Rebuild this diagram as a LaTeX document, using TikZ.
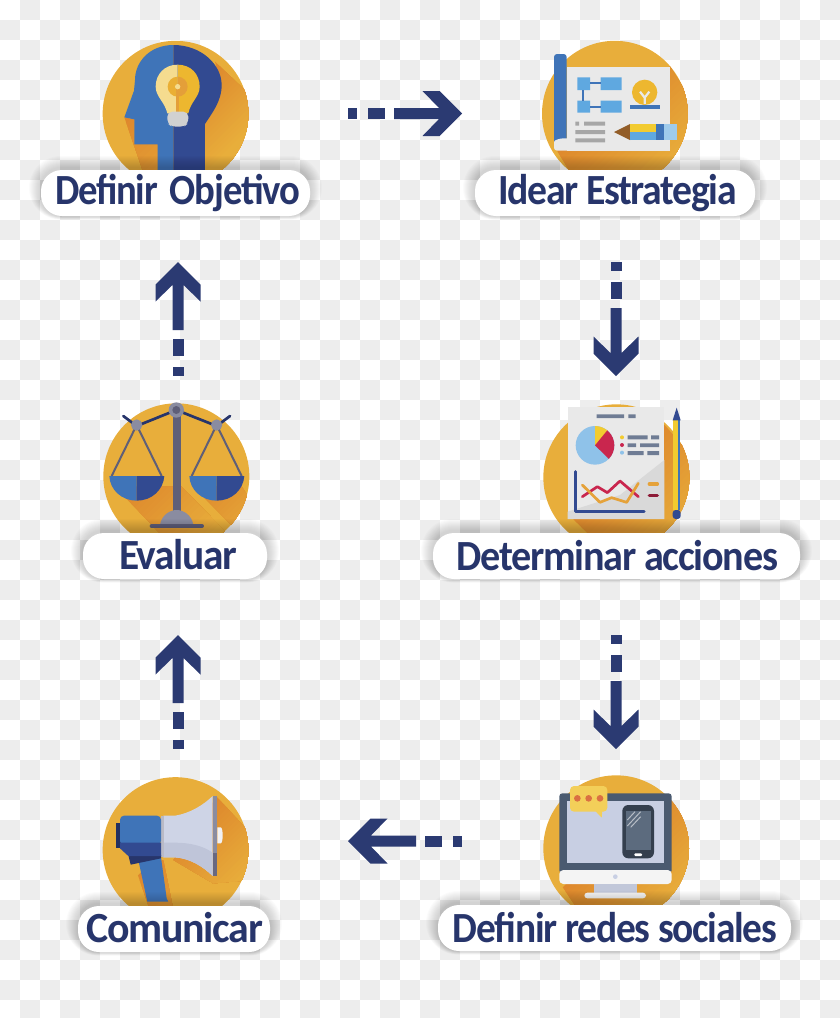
\documentclass[tikz,border=0pt]{standalone}
\usepackage{fontspec}
\usepackage{graphicx}
\setmainfont{Carlito}[LetterSpace=-3.2]
\definecolor{chk}{HTML}{EDEDED}
\definecolor{circ}{HTML}{E8AE3B}
\definecolor{shO}{HTML}{DE882D}
\definecolor{bluL}{HTML}{3F74B8}
\definecolor{bluD}{HTML}{324A91}
\definecolor{navy}{HTML}{2B3A72}
\definecolor{txt}{HTML}{27356B}
\definecolor{paper}{HTML}{E9E9E9}
\definecolor{sky}{HTML}{5FA8E0}
\definecolor{yel}{HTML}{F2CB30}
\definecolor{gold}{HTML}{EDB72F}
\definecolor{pale}{HTML}{F5DC8F}
\definecolor{slate}{HTML}{5F5F78}
\definecolor{mist}{HTML}{8A8CA0}
\definecolor{bar}{HTML}{6F7C94}
\definecolor{rd}{HTML}{C9264E}
\definecolor{org}{HTML}{E5A23A}
\definecolor{scr}{HTML}{C8CFE3}
\definecolor{bez}{HTML}{4A5A70}
\tikzset{
  x=1pt,y=-1pt,
  disc/.style={fill=circ},
  pill/.style={fill=white,rounded corners=21pt,inner sep=0pt,outer sep=0pt,text=txt,font=\fontsize{43}{43}\selectfont\bfseries},
  arrowbody/.style={fill=navy}
}
% long shadow: diagonal bands from orange to the disc colour, inside a polygon
\newcommand{\softshade}[3]{% x+y where it starts, length in x and y, polygon
  \begin{scope}
    \clip #3;
    \foreach \k in {0,...,20}{
      \pgfmathsetmacro{\tt}{#1/2+\k*#2/20}
      \pgfmathsetmacro{\pp}{100-5*\k}
      \fill[shO!\pp!circ] ({\tt+1500},{\tt-1500}) -- ({\tt-1500},{\tt+1500}) -- ({\tt},{\tt+3000}) -- ({\tt+3000},{\tt}) -- cycle;
    }
  \end{scope}
}
\newcommand{\labelpill}[9]{% name, x1, y1, x2, y2, H, textwidth, dx, text
  \pgfmathsetmacro{\pw}{#4-#2}\pgfmathsetmacro{\ph}{#5-#3}
  \foreach \e in {1,...,12}{
    \fill[black,opacity=0.016,rounded corners=20pt+\e pt] (#2-\e,#3-\e-2) rectangle (#4+\e,#5+0.3*\e);
  }
  \pgfmathsetmacro{\pd}{\ph-#6}
  \node[pill,minimum width=\pw pt,text height=#6 pt,text depth=\pd pt] (#1) at ({(#2+#4)/2},{(#3+#5)/2}) {\hspace*{#8pt}\resizebox{#7pt}{\height}{#9}};
}
\newcommand{\dasharrow}[2]{% start coordinate, angle
  \begin{scope}[shift={(#1)},rotate=#2]
    \fill[arrowbody] (0,-5.5) rectangle (9,5.5);
    \fill[arrowbody] (20,-5.5) rectangle (37,5.5);
    \fill[arrowbody] (46,-5.5) -- (91,-5.5) -- (74.5,-22.5) -- (91.5,-22.5) -- (114,0) -- (91.5,22.5) -- (74.5,22.5) -- (91,5.5) -- (46,5.5) -- cycle;
  \end{scope}
}
\begin{document}
\begin{tikzpicture}
\useasboundingbox (0,0) rectangle (840,1018);
% checker background
\begin{scope}
\clip (0,0) rectangle (840,1018);
\foreach \i in {0,...,41}{\foreach \j in {0,...,50}{
  \pgfmathtruncatemacro{\s}{mod(\i+\j,2)}
  \ifnum\s=1 \fill[chk] (20*\i,20*\j) rectangle (20*\i+20,20*\j+20);\fi
}}
\end{scope}

% ---------- icon 1: head
\begin{scope}[shift={(30,30)},scale=0.33333]
  \fill[disc] (436.5,251) circle (218.5);
  \begin{scope}
    \clip (436.5,251) circle (218.5);
    \softshade{650}{150}{(555,95) -- (680,215) -- (680,440) -- (525,440) -- (525,280) -- (575,165) -- cycle}
    \softshade{545}{220}{(283,262) -- (345,440) -- (385,440) -- (385,343) -- (313,343) -- (313,268) -- cycle}
  \end{scope}
  \fill[bluL] (430,45) .. controls (360,45) and (315,95) .. (315,150) -- (312,182) -- (283,262) -- (313,268) -- (313,343) -- (383,343) -- (383,425) -- (430,425) -- cycle;
  \fill[bluD] (430,45) .. controls (515,45) and (575,105) .. (575,165) .. controls (575,215) and (545,250) .. (525,282) -- (525,425) -- (430,425) -- cycle;
  \fill[gold] (443,104) .. controls (482,104) and (509,132) .. (509,170) .. controls (509,200) and (482,215) .. (475,250) -- (443,250) -- cycle;
  \fill[pale] (443,104) .. controls (404,104) and (377,132) .. (377,170) .. controls (377,200) and (404,215) .. (412,250) -- (443,250) -- cycle;
  \fill[org!90!shO] (443,140) arc[start angle=-90,end angle=90,radius=30];
  \fill[org!40!gold] (443,140) arc[start angle=270,end angle=90,radius=30] -- cycle;
  \draw[org!90!shO,line width=2.4pt] (443,170) -- (443,245);
  \fill[pale] (443,170) circle (8);
  \fill[white!82!black,rounded corners=5pt] (412,245) -- (475,245) -- (475,280) -- (462,290) -- (425,290) -- (412,280) -- cycle;
\end{scope}

% ---------- icon 2: plan
\begin{scope}[shift={(340,30)},scale=0.33333]
  \fill[disc] (824.5,251) circle (218.5);
  \begin{scope}
    \clip (824.5,251) circle (218.5);
    \softshade{1000}{200}{(990,110) -- (1060,220) -- (1060,440) -- (700,440) -- (650,360) -- cycle}
  \end{scope}
  \fill[paper] (680,110) rectangle (990,362);
  \fill[bluL,rounded corners=3pt] (642,72) rectangle (680,350);
  \fill[paper,rounded corners=3pt] (680,325) .. controls (660,325) and (642,330) .. (642,345) -- (642,362) -- (700,362) -- (700,325) -- cycle;
  \fill[sky] (712,142) rectangle (750,180) (782,142) rectangle (845,180) (712,212) rectangle (750,248) (782,212) rectangle (845,248);
  \draw[bluL,line width=1.8pt] (750,160) -- (782,160) (730,180) -- (730,212) (750,230) -- (782,230);
  \begin{scope}
    \clip (860,140) rectangle (970,224);
    \fill[gold] (914,187) circle (38);
  \end{scope}
  \draw[paper,line width=2.2pt] (900,185) -- (914,203) -- (928,185) (914,203) -- (914,222);
  \fill[bluL] (870,224) rectangle (960,236);
  \fill[gray!70] (706,275) rectangle (717,287) (732,275) rectangle (795,287) (706,300) rectangle (795,312) (706,325) rectangle (795,337);
  \fill[brown!70!black!90!orange] (822,306) -- (870,282) -- (870,330) -- cycle;
  \fill[yel] (870,282) rectangle (948,305);
  \fill[sky] (870,305) rectangle (948,330);
  \fill[bluL] (948,282) rectangle (972,330);
  \fill[sky!60!white] (972,282) rectangle (1010,330);
\end{scope}

% ---------- icon 3: scales
\begin{scope}[shift={(60,390)},scale=0.33333]
  \fill[disc] (349,259) circle (219);
  \begin{scope}
    \clip (349,259) circle (219);
    \softshade{500}{190}{(165,290) -- (310,440) -- (510,440) -- (365,290) -- cycle}
    \softshade{690}{170}{(400,290) -- (530,420) -- (590,360) -- (545,290) -- cycle}
  \end{scope}
  \draw[slate,line width=2pt] (230,105) -- (155,258) (230,105) -- (305,258) (470,105) -- (395,258) (470,105) -- (545,258);
  \draw[txt,line width=2.7pt,line cap=round] (190,78) -- (230,108) -- (349,60) -- (470,108) -- (510,78);
  \fill[slate] (338,60) rectangle (362,370);
  \fill[mist] (230,105) circle (17) (470,105) circle (17) (349,60) circle (23);
  \fill[slate] (349,60) circle (12);
  \fill[bluL] (148,258) -- (230,258) -- (230,332) .. controls (185,332) and (150,300) .. (148,258) -- cycle;
  \fill[bluD] (313,258) -- (230,258) -- (230,332) .. controls (275,332) and (310,300) .. (313,258) -- cycle;
  \fill[bluL] (388,258) -- (470,258) -- (470,332) .. controls (425,332) and (390,300) .. (388,258) -- cycle;
  \fill[bluD] (553,258) -- (470,258) -- (470,332) .. controls (515,332) and (550,300) .. (553,258) -- cycle;
  \fill[mist] (300,404) .. controls (305,375) and (330,360) .. (350,360) .. controls (370,360) and (395,375) .. (400,404) -- cycle;
  \draw[slate,line width=4pt,line cap=round] (275,408) -- (426,408);
\end{scope}

% ---------- icon 4: report
\begin{scope}[shift={(520,395)},scale=0.33333]
  \fill[disc] (289,247) circle (219);
  \begin{scope}
    \clip (289,247) circle (219);
    \softshade{500}{200}{(433,90) -- (520,190) -- (520,420) -- (210,420) -- (160,372) -- cycle}
  \end{scope}
  \fill[paper] (143,35) rectangle (433,372);
  \fill[white!85!black] (433,195) -- (300,300) -- (143,350) -- (143,372) -- (433,372) -- cycle;
  \fill[bar] (230,58) rectangle (312,69) (325,58) rectangle (347,69);
  \fill[sky!70!white] (225,151) circle (58);
  \begin{scope}
    \clip (225,151) circle (58);
    \fill[yel] (225,151) -- (225,85) -- (285,85) -- (265,110) -- cycle;
    \fill[rd] (225,151) -- (275,90) -- (295,130) -- (280,205) -- cycle;
  \end{scope}
  \fill[yel] (306,127) circle (6);
  \fill[rd] (306,150) circle (6);
  \fill[sky!70!white] (306,173) circle (6);
  \fill[bar] (323,121) rectangle (383,133) (393,121) rectangle (417,133) (323,145) rectangle (348,156) (360,145) rectangle (417,156) (323,168) rectangle (371,180) (382,168) rectangle (417,180);
  \draw[bluD,line width=3.2pt,line cap=round,line join=round] (166,230) -- (166,350) -- (372,350);
  \draw[rd,line width=2.7pt,line cap=round,line join=round] (187,305) -- (232,275) -- (262,293) -- (300,258) -- (355,305);
  \draw[org,line width=2.7pt,line cap=round,line join=round] (187,270) -- (240,322) -- (275,308) -- (320,322) -- (355,265);
  \draw[org,line width=3.4pt,line cap=round] (388,267) -- (412,267);
  \draw[rd!70!black,line width=3.4pt,line cap=round] (388,302) -- (412,302);
  \fill[yel] (458,75) rectangle (480,345);
  \fill[bluL] (475,75) rectangle (481,345);
  \fill[bluD] (458,76) -- (470,38) -- (482,76) -- cycle;
  \fill[bluD,rounded corners=3pt] (458,345) -- (482,345) -- (482,372) -- (458,372) -- cycle;
\end{scope}

% ---------- icon 5: megaphone
\begin{scope}[shift={(60,770)},scale=0.33333]
  \fill[disc] (346.5,240) circle (218.5);
  \begin{scope}
    \clip (346.5,240) circle (218.5);
    \softshade{550}{160}{(470,80) -- (575,195) -- (575,330) -- (460,340) -- (340,270) -- cycle}
    \softshade{550}{180}{(225,290) -- (270,420) -- (340,420) -- (310,270) -- cycle}
  \end{scope}
  \fill[white!88!mist] (472,172) -- (482,172) .. controls (490,172) and (490,220) .. (482,220) -- (472,220) -- cycle;
  \fill[scr!90!white] (310,137) -- (345,137) .. controls (390,130) and (430,105) .. (458,78) -- (458,318) .. controls (430,290) and (390,265) .. (345,262) -- (310,262) -- cycle;
  \fill[scr!85!mist] (310,218) -- (345,218) .. controls (390,218) and (430,228) .. (458,248) -- (458,318) .. controls (430,290) and (390,265) .. (345,262) -- (310,262) -- cycle;
  \fill[mist] (458,78) rectangle (472,318);
  \fill[slate!80!mist] (458,250) rectangle (472,318);
  \fill[mist!60!white] (302,137) rectangle (312,262);
  \fill[txt!90!black] (168,160) rectangle (182,235);
  \fill[bluL] (235,270) -- (303,262) -- (320,385) -- (325,395) -- (262,395) -- cycle;
  \fill[txt] (205,255) -- (303,255) -- (303,265) -- (212,284) -- cycle;
  \fill[bluL,rounded corners=4pt] (180,137) -- (303,137) -- (303,225) -- (180,225) -- cycle;
  \fill[bluD] (180,218) -- (303,218) -- (303,258) -- (205,258) -- (180,235) -- cycle;
\end{scope}

% ---------- icon 6: monitor
\begin{scope}[shift={(520,770)},scale=0.33333]
  \fill[disc] (288.5,234.5) circle (218.5);
  \begin{scope}
    \clip (288.5,234.5) circle (218.5);
    \softshade{480}{180}{(455,75) -- (520,190) -- (520,420) -- (175,420) -- (120,340) -- cycle}
  \end{scope}
  \fill[bez,rounded corners=3pt] (118,70) rectangle (455,310);
  \fill[scr] (140,92) rectangle (433,280);
  \fill[paper!50!white,rounded corners=4pt] (118,300) rectangle (455,342);
  \fill[scr] (286,320) circle (7);
  \fill[scr!90!gray] (222,342) rectangle (350,368);
  \fill[paper!50!white,rounded corners=3pt] (193,368) rectangle (378,385);
  \fill[bez!70!black,rounded corners=6pt] (307,105) rectangle (402,265);
  \fill[bez!90!white] (318,122) rectangle (392,240);
  \draw[bez!40!white,line width=1pt] (322,150) -- (345,125) (322,168) -- (362,125) (332,172) -- (362,140);
  \fill[white,rounded corners=1pt] (343,250) rectangle (366,258);
  \fill[yel!60!gold!80!white] (225,122) -- (245,143) -- (247,122) -- cycle;
  \fill[yel!60!gold!80!white,rounded corners=4pt] (150,48) rectangle (262,125);
  \fill[rd!40!org] (172,85) circle (10) (206,85) circle (10) (240,85) circle (10);
\end{scope}

% ---------- labels
\labelpill{objetivo}{41}{170}{310}{216}{34}{245}{4}{Definir\hspace{.12em} Objetivo}
\labelpill{estrategia}{475}{170}{755}{216}{34}{239}{5}{Idear Estrategia}
\labelpill{acciones}{433}{533}{800}{579}{37}{321}{2}{Determinar acciones}
\labelpill{evaluar}{83}{533}{267}{579}{36}{118}{6}{Evaluar}
\labelpill{redes}{438}{905}{791}{951}{37}{324}{1}{Definir redes sociales}
\labelpill{comunicar}{78}{906}{270}{952}{36}{176}{2}{Comunicar}

% ---------- connectors
\coordinate (a1s) at (348,113.5);
\coordinate (a2s) at (616,262);
\coordinate (a3s) at (616,635);
\coordinate (a4s) at (462,841);
\coordinate (a5s) at (178,749);
\coordinate (a6s) at (178,376);
\dasharrow{a1s}{0}
\dasharrow{a2s}{-90}
\dasharrow{a3s}{-90}
\dasharrow{a4s}{180}
\dasharrow{a5s}{90}
\dasharrow{a6s}{90}
\end{tikzpicture}
\end{document}
